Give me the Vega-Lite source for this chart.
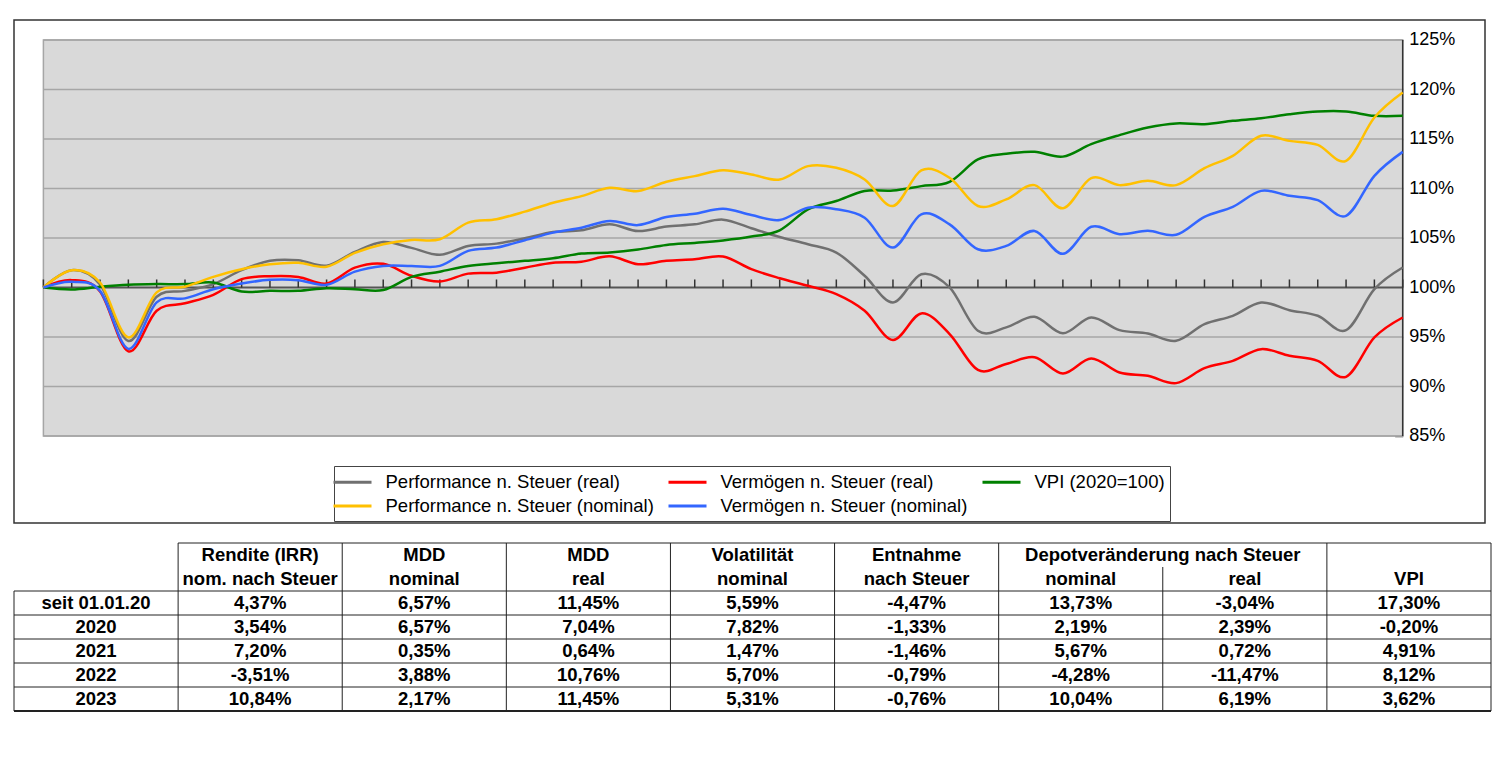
{
  "$schema": "https://vega.github.io/schema/vega-lite/v6.json",
  "padding": {"left": 13, "top": 19, "right": 0, "bottom": 0},
  "background": "white",
  "spacing": 18,
  "config": {
    "view": {"stroke": null},
    "font": "Liberation Sans",
    "legend": {
      "orient": "none", "legendX": 320, "legendY": 446, "direction": "horizontal", "columns": 3,
      "symbolType": "M-2,0H2", "symbolSize": 361, "symbolStrokeWidth": 3, "symbolOffset": 2.5,
      "labelFont": "Liberation Sans", "labelFontSize": 18.5, "labelColor": "#000", "labelLimit": 500,
      "labelOffset": 22, "columnPadding": 8, "rowPadding": 3, "padding": 5,
      "strokeColor": "#444", "fillColor": "#fff", "gridAlign": "each"
    }
  },
  "datasets": {
    "series": [
      {"m":0,"pr":100,"vr":100,"vpi":100,"pn":100,"vn":100},
      {"m":1,"pr":101.75,"vr":100.74,"vpi":99.8,"pn":101.75,"vn":100.57},
      {"m":2,"pr":100.3,"vr":99.6,"vpi":100.07,"pn":100.5,"vn":99.66},
      {"m":3,"pr":94.6,"vr":93.55,"vpi":100.27,"pn":94.96,"vn":93.8},
      {"m":4,"pr":99.06,"vr":97.65,"vpi":100.34,"pn":99.5,"vn":98.5},
      {"m":5,"pr":99.66,"vr":98.4,"vpi":100.34,"pn":100.07,"vn":98.9},
      {"m":6,"pr":100.34,"vr":99.26,"vpi":100.5,"pn":101.07,"vn":99.83},
      {"m":7,"pr":101.75,"vr":100.84,"vpi":99.6,"pn":101.85,"vn":100.4},
      {"m":8,"pr":102.7,"vr":101.14,"vpi":99.66,"pn":102.35,"vn":100.77},
      {"m":9,"pr":102.75,"vr":101.07,"vpi":99.66,"pn":102.5,"vn":100.74},
      {"m":10,"pr":102.2,"vr":100.4,"vpi":99.93,"pn":102.1,"vn":100.27},
      {"m":11,"pr":103.6,"vr":102.0,"vpi":99.83,"pn":103.5,"vn":101.6},
      {"m":12,"pr":104.6,"vr":102.39,"vpi":99.75,"pn":104.37,"vn":102.18},
      {"m":13,"pr":104.0,"vr":101.18,"vpi":101.07,"pn":104.8,"vn":102.18},
      {"m":14,"pr":103.3,"vr":100.6,"vpi":101.6,"pn":104.87,"vn":102.18},
      {"m":15,"pr":104.2,"vr":101.4,"vpi":102.18,"pn":106.55,"vn":103.7},
      {"m":16,"pr":104.43,"vr":101.5,"vpi":102.45,"pn":106.9,"vn":104.03},
      {"m":17,"pr":104.97,"vr":102.0,"vpi":102.69,"pn":107.66,"vn":104.77},
      {"m":18,"pr":105.6,"vr":102.5,"vpi":102.95,"pn":108.56,"vn":105.54},
      {"m":19,"pr":105.78,"vr":102.6,"vpi":103.43,"pn":109.23,"vn":106.04},
      {"m":20,"pr":106.38,"vr":103.15,"vpi":103.53,"pn":110.07,"vn":106.72},
      {"m":21,"pr":105.7,"vr":102.35,"vpi":103.83,"pn":109.74,"vn":106.3},
      {"m":22,"pr":106.15,"vr":102.7,"vpi":104.3,"pn":110.68,"vn":107.12},
      {"m":23,"pr":106.38,"vr":102.85,"vpi":104.5,"pn":111.25,"vn":107.45},
      {"m":24,"pr":106.85,"vr":103.13,"vpi":104.75,"pn":111.85,"vn":107.96},
      {"m":25,"pr":105.98,"vr":101.85,"vpi":105.14,"pn":111.42,"vn":107.32},
      {"m":26,"pr":105.1,"vr":100.94,"vpi":105.78,"pn":110.91,"vn":106.82},
      {"m":27,"pr":104.37,"vr":100.17,"vpi":107.89,"pn":112.26,"vn":108.06},
      {"m":28,"pr":103.53,"vr":99.33,"vpi":108.73,"pn":112.09,"vn":107.9},
      {"m":29,"pr":101.18,"vr":97.65,"vpi":109.74,"pn":110.91,"vn":107.05},
      {"m":30,"pr":98.49,"vr":94.7,"vpi":109.8,"pn":108.23,"vn":104.03},
      {"m":31,"pr":101.34,"vr":97.38,"vpi":110.24,"pn":111.82,"vn":107.39},
      {"m":32,"pr":100.0,"vr":95.3,"vpi":110.68,"pn":111.08,"vn":106.38},
      {"m":33,"pr":95.63,"vr":91.67,"vpi":112.93,"pn":108.23,"vn":103.86},
      {"m":34,"pr":95.97,"vr":92.28,"vpi":113.5,"pn":108.9,"vn":104.2},
      {"m":35,"pr":97.04,"vr":92.95,"vpi":113.7,"pn":110.34,"vn":105.71},
      {"m":36,"pr":95.37,"vr":91.31,"vpi":113.22,"pn":108.0,"vn":103.4},
      {"m":37,"pr":96.97,"vr":92.83,"vpi":114.48,"pn":111.04,"vn":106.13},
      {"m":38,"pr":95.69,"vr":91.41,"vpi":115.39,"pn":110.34,"vn":105.39},
      {"m":39,"pr":95.35,"vr":91.08,"vpi":116.16,"pn":110.77,"vn":105.72},
      {"m":40,"pr":94.61,"vr":90.34,"vpi":116.57,"pn":110.34,"vn":105.32},
      {"m":41,"pr":96.3,"vr":91.85,"vpi":116.5,"pn":112.05,"vn":107.14},
      {"m":42,"pr":97.14,"vr":92.59,"vpi":116.84,"pn":113.3,"vn":108.15},
      {"m":43,"pr":98.48,"vr":93.77,"vpi":117.1,"pn":115.32,"vn":109.76},
      {"m":44,"pr":97.71,"vr":93.1,"vpi":117.5,"pn":114.81,"vn":109.26},
      {"m":45,"pr":97.14,"vr":92.59,"vpi":117.78,"pn":114.41,"vn":108.82},
      {"m":46,"pr":95.69,"vr":90.98,"vpi":117.78,"pn":112.8,"vn":107.24},
      {"m":47,"pr":99.83,"vr":94.95,"vpi":117.34,"pn":117.17,"vn":111.28},
      {"m":48,"pr":102.02,"vr":96.97,"vpi":117.34,"pn":119.7,"vn":113.7}
    ],
    "grid": [{"g":85},{"g":90},{"g":95},{"g":105},{"g":110},{"g":115},{"g":120},{"g":125}],
    "cells": [
      {"r":0,"c":1,"t":"Rendite (IRR)"},{"r":0,"c":2,"t":"MDD"},{"r":0,"c":3,"t":"MDD"},{"r":0,"c":4,"t":"Volatilität"},{"r":0,"c":5,"t":"Entnahme"},
      {"r":1,"c":1,"t":"nom. nach Steuer"},{"r":1,"c":2,"t":"nominal"},{"r":1,"c":3,"t":"real"},{"r":1,"c":4,"t":"nominal"},{"r":1,"c":5,"t":"nach Steuer"},{"r":1,"c":6,"t":"nominal"},{"r":1,"c":7,"t":"real"},{"r":1,"c":8,"t":"VPI"},
      {"r":2,"c":0,"t":"seit 01.01.20"},{"r":2,"c":1,"t":"4,37%"},{"r":2,"c":2,"t":"6,57%"},{"r":2,"c":3,"t":"11,45%"},{"r":2,"c":4,"t":"5,59%"},{"r":2,"c":5,"t":"-4,47%"},{"r":2,"c":6,"t":"13,73%"},{"r":2,"c":7,"t":"-3,04%"},{"r":2,"c":8,"t":"17,30%"},
      {"r":3,"c":0,"t":"2020"},{"r":3,"c":1,"t":"3,54%"},{"r":3,"c":2,"t":"6,57%"},{"r":3,"c":3,"t":"7,04%"},{"r":3,"c":4,"t":"7,82%"},{"r":3,"c":5,"t":"-1,33%"},{"r":3,"c":6,"t":"2,19%"},{"r":3,"c":7,"t":"2,39%"},{"r":3,"c":8,"t":"-0,20%"},
      {"r":4,"c":0,"t":"2021"},{"r":4,"c":1,"t":"7,20%"},{"r":4,"c":2,"t":"0,35%"},{"r":4,"c":3,"t":"0,64%"},{"r":4,"c":4,"t":"1,47%"},{"r":4,"c":5,"t":"-1,46%"},{"r":4,"c":6,"t":"5,67%"},{"r":4,"c":7,"t":"0,72%"},{"r":4,"c":8,"t":"4,91%"},
      {"r":5,"c":0,"t":"2022"},{"r":5,"c":1,"t":"-3,51%"},{"r":5,"c":2,"t":"3,88%"},{"r":5,"c":3,"t":"10,76%"},{"r":5,"c":4,"t":"5,70%"},{"r":5,"c":5,"t":"-0,79%"},{"r":5,"c":6,"t":"-4,28%"},{"r":5,"c":7,"t":"-11,47%"},{"r":5,"c":8,"t":"8,12%"},
      {"r":6,"c":0,"t":"2023"},{"r":6,"c":1,"t":"10,84%"},{"r":6,"c":2,"t":"2,17%"},{"r":6,"c":3,"t":"11,45%"},{"r":6,"c":4,"t":"5,31%"},{"r":6,"c":5,"t":"-0,76%"},{"r":6,"c":6,"t":"10,04%"},{"r":6,"c":7,"t":"6,19%"},{"r":6,"c":8,"t":"3,62%"}
    ],
    "lines": [
      {"k":"h","x1":1,"x2":9,"y1":0,"y2":0},
      {"k":"h","x1":0,"x2":9,"y1":2,"y2":2},
      {"k":"h","x1":0,"x2":9,"y1":3,"y2":3},
      {"k":"h","x1":0,"x2":9,"y1":4,"y2":4},
      {"k":"h","x1":0,"x2":9,"y1":5,"y2":5},
      {"k":"h","x1":0,"x2":9,"y1":6,"y2":6},
      {"k":"b","x1":0,"x2":9,"y1":7,"y2":7},
      {"k":"v","x1":0,"x2":0,"y1":2,"y2":7},
      {"k":"v","x1":1,"x2":1,"y1":0,"y2":7},
      {"k":"v","x1":2,"x2":2,"y1":0,"y2":7},
      {"k":"v","x1":3,"x2":3,"y1":0,"y2":7},
      {"k":"v","x1":4,"x2":4,"y1":0,"y2":7},
      {"k":"v","x1":5,"x2":5,"y1":0,"y2":7},
      {"k":"v","x1":6,"x2":6,"y1":0,"y2":7},
      {"k":"v","x1":7,"x2":7,"y1":1,"y2":7},
      {"k":"v","x1":8,"x2":8,"y1":0,"y2":7},
      {"k":"v","x1":9,"x2":9,"y1":0,"y2":7}
    ]
  },
  "vconcat": [
    {
      "width": 1471,
      "height": 503,
      "view": {"stroke": "#333", "strokeWidth": 1.5},
      "resolve": {"axis": {"x": "independent", "y": "independent"}},
      "layer": [
        {
          "data": {"values": [{"x1": 0, "x2": 48, "y1": 85, "y2": 125}]},
          "mark": {"type": "rect", "fill": "#d9d9d9", "stroke": "#a6a6a6", "strokeWidth": 1.5},
          "encoding": {
            "x": {"field": "x1", "type": "quantitative", "scale": {"domain": [-1.038, 50.906], "nice": false, "zero": false}, "axis": null},
            "x2": {"field": "x2"},
            "y": {"field": "y1", "type": "quantitative", "scale": {"domain": [76.21, 127.02], "nice": false, "zero": false}, "axis": null},
            "y2": {"field": "y2"}
          }
        },
        {
          "data": {"name": "grid"},
          "mark": {"type": "rule", "stroke": "#a6a6a6", "strokeWidth": 1.5},
          "encoding": {
            "y": {"field": "g", "type": "quantitative", "scale": {"domain": [76.21, 127.02], "nice": false, "zero": false},
              "axis": {"orient": "right", "offset": -82.3, "values": [85, 90, 95, 100, 105, 110, 115, 120, 125], "domain": false, "grid": false,
                "ticks": true, "tickSize": -8, "tickColor": "#333", "tickWidth": 1.5, "labelPadding": 14,
                "labelFont": "Liberation Sans", "labelFontSize": 18, "labelColor": "#000", "labelExpr": "datum.value + '%'", "title": null}},
            "x": {"datum": 0, "type": "quantitative", "scale": {"domain": [-1.038, 50.906], "nice": false, "zero": false}, "axis": null},
            "x2": {"datum": 48}
          }
        },
        {
          "data": {"values": [{"y": 100}]},
          "mark": {"type": "rule", "stroke": "#555", "strokeWidth": 2},
          "encoding": {
            "y": {"field": "y", "type": "quantitative", "scale": {"domain": [76.21, 127.02], "nice": false, "zero": false}, "axis": null},
            "x": {"datum": 0, "type": "quantitative", "scale": {"domain": [-1.038, 50.906], "nice": false, "zero": false}, "axis": null},
            "x2": {"datum": 48}
          }
        },
        {
          "data": {"name": "series"},
          "mark": {"type": "rule", "stroke": "#333", "strokeWidth": 1.5},
          "encoding": {
            "x": {"field": "m", "type": "quantitative", "scale": {"domain": [-1.038, 50.906], "nice": false, "zero": false}, "axis": null},
            "y": {"datum": 100, "type": "quantitative", "scale": {"domain": [76.21, 127.02], "nice": false, "zero": false}, "axis": null},
            "y2": {"datum": 100.81}
          }
        },
        {
          "data": {"values": [{"x": 48}]},
          "mark": {"type": "rule", "stroke": "#333", "strokeWidth": 1.5},
          "encoding": {
            "x": {"field": "x", "type": "quantitative", "scale": {"domain": [-1.038, 50.906], "nice": false, "zero": false}, "axis": null},
            "y": {"datum": 85, "type": "quantitative", "scale": {"domain": [76.21, 127.02], "nice": false, "zero": false}, "axis": null},
            "y2": {"datum": 125}
          }
        },
        {
          "data": {"name": "series"},
          "transform": [{"fold": ["pr", "vr", "vpi", "pn", "vn"], "as": ["k", "v"]}],
          "mark": {"type": "line", "interpolate": "cardinal", "strokeWidth": 2.5},
          "encoding": {
            "x": {"field": "m", "type": "quantitative", "scale": {"domain": [-1.038, 50.906], "nice": false, "zero": false}, "axis": null},
            "y": {"field": "v", "type": "quantitative", "scale": {"domain": [76.21, 127.02], "nice": false, "zero": false}, "axis": null},
            "color": {
              "field": "k", "type": "nominal",
              "scale": {"domain": ["pr", "vr", "vpi", "pn", "vn"], "range": ["#707070", "#ff0000", "#008000", "#ffc000", "#3366ff"]},
              "legend": {"title": null, "labelExpr": "datum.label == 'pr' ? 'Performance n. Steuer (real)' : datum.label == 'vr' ? 'Vermögen n. Steuer (real)' : datum.label == 'vpi' ? 'VPI (2020=100)' : datum.label == 'pn' ? 'Performance n. Steuer (nominal)' : 'Vermögen n. Steuer (nominal)'"}
            }
          }
        }
      ]
    },
    {
      "width": 1477,
      "height": 168,
      "layer": [
        {
          "data": {"name": "lines"},
          "transform": [{"filter": "datum.k != 'b'"}],
          "mark": {"type": "rule", "stroke": "#222", "strokeWidth": 1},
          "encoding": {
            "x": {"field": "x1", "type": "quantitative", "scale": {"domain": [0, 9], "nice": false, "zero": false}, "axis": null},
            "x2": {"field": "x2"},
            "y": {"field": "y1", "type": "quantitative", "scale": {"domain": [0, 7], "reverse": true, "nice": false, "zero": false}, "axis": null},
            "y2": {"field": "y2"}
          }
        },
        {
          "data": {"name": "lines"},
          "transform": [{"filter": "datum.k == 'b'"}],
          "mark": {"type": "rule", "stroke": "#222", "strokeWidth": 2},
          "encoding": {
            "x": {"field": "x1", "type": "quantitative", "scale": {"domain": [0, 9], "nice": false, "zero": false}, "axis": null},
            "x2": {"field": "x2"},
            "y": {"field": "y1", "type": "quantitative", "scale": {"domain": [0, 7], "reverse": true, "nice": false, "zero": false}, "axis": null},
            "y2": {"field": "y2"}
          }
        },
        {
          "data": {"name": "cells"},
          "mark": {"type": "text", "font": "Liberation Sans", "fontWeight": "bold", "fontSize": 18.5, "color": "#000", "align": "center", "baseline": "middle"},
          "encoding": {
            "x": {"field": "c", "type": "ordinal", "scale": {"type": "point", "domain": [0, 1, 2, 3, 4, 5, 6, 7, 8], "padding": 0.5}, "axis": null},
            "y": {"field": "r", "type": "ordinal", "scale": {"type": "point", "domain": [0, 1, 2, 3, 4, 5, 6], "padding": 0.5}, "axis": null},
            "text": {"field": "t"}
          }
        },
        {
          "data": {"values": [{"c": 7, "r": 0, "t": "Depotveränderung nach Steuer"}]},
          "mark": {"type": "text", "font": "Liberation Sans", "fontWeight": "bold", "fontSize": 18.5, "color": "#000", "align": "center", "baseline": "middle"},
          "encoding": {
            "x": {"field": "c", "type": "quantitative", "scale": {"domain": [0, 9], "nice": false, "zero": false}, "axis": null},
            "y": {"field": "r", "type": "ordinal", "scale": {"type": "point", "domain": [0, 1, 2, 3, 4, 5, 6], "padding": 0.5}, "axis": null},
            "text": {"field": "t"}
          }
        }
      ],
      "resolve": {"scale": {"x": "independent", "y": "independent"}}
    }
  ]
}
